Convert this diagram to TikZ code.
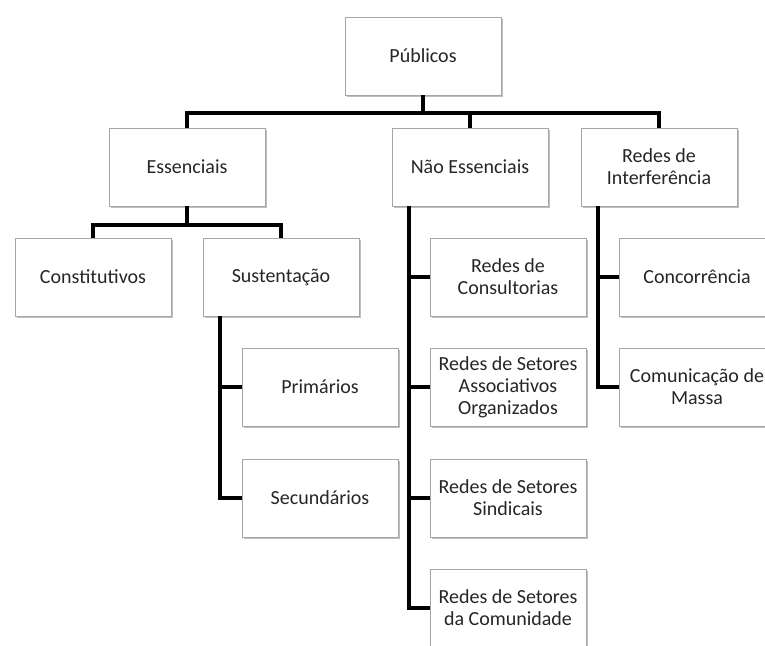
\documentclass[tikz,border=0pt]{standalone}
\usepackage{fontspec}
\setmainfont{Carlito}
\usetikzlibrary{shadows}
\begin{document}
\begin{tikzpicture}[x=1pt,y=-1pt,
  box/.style={draw=black!35, line width=0.7pt, fill=white,
    minimum width=156pt, minimum height=78pt, inner sep=2pt,
    align=center, text=black!85,
    font=\fontsize{20}{22}\selectfont,
    drop shadow={shadow xshift=1.8pt, shadow yshift=-1.8pt, opacity=0.45, fill=black!55}},
  conn/.style={line width=4pt, line join=miter, draw=black}]
\useasboundingbox (0,0) rectangle (765,645);
\clip (0,0) rectangle (765,645);
\fill[white] (0,0) rectangle (765,645);
% boxes
\node[box] (pub) at (423,56) {Públicos};
\node[box] (ess) at (187,167) {Essenciais};
\node[box] (nao) at (470,167) {Não Essenciais};
\node[box] (red) at (659,167) {Redes de\\Interferência};
\node[box] (con) at (93,277) {Constitutivos};
\node[box] (sus) at (281,277) {Sustentação};
\node[box] (pri) at (320,387) {Primários};
\node[box] (sec) at (320,498) {Secundários};
\node[box] (cons) at (508,277) {Redes de\\Consultorias};
\node[box] (assoc) at (508,387) {Redes de Setores\\Associativos\\Organizados};
\node[box] (sind) at (508,498) {Redes de Setores\\Sindicais};
\node[box] (comu) at (508,608) {Redes de Setores\\da Comunidade};
\node[box] (conc) at (697,277) {Concorrência};
\node[box] (mass) at (697,387) {Comunicação de\\Massa};
% junction points
\coordinate (b1) at (423,113);
\coordinate (b2) at (187,225);
\coordinate (t1) at (220,316);
\coordinate (t2) at (409,206);
\coordinate (t3) at (598,206);
% connectors
\draw[conn] (pub.south) -- (b1);
\draw[conn] (ess.north) |- (b1);
\draw[conn] (red.north) |- (b1);
\draw[conn] (nao.north) -- (nao.north |- b1);
\draw[conn] (ess.south) -- (b2);
\draw[conn] (con.north) |- (b2);
\draw[conn] (sus.north) |- (b2);
\draw[conn] (t1) |- (sec.west);
\draw[conn] (t1 |- pri.west) -- (pri.west);
\draw[conn] (t2) |- (comu.west);
\draw[conn] (t2 |- cons.west) -- (cons.west);
\draw[conn] (t2 |- assoc.west) -- (assoc.west);
\draw[conn] (t2 |- sind.west) -- (sind.west);
\draw[conn] (t3) |- (mass.west);
\draw[conn] (t3 |- conc.west) -- (conc.west);
\end{tikzpicture}
\end{document}
